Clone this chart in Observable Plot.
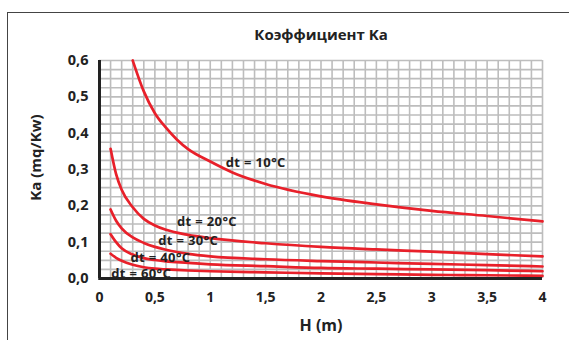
<!DOCTYPE html>
<html><head><meta charset="utf-8">
<script src="https://cdn.jsdelivr.net/npm/d3@7"></script>
<script src="https://cdn.jsdelivr.net/npm/@observablehq/plot@0.6"></script>
<style>
html,body{margin:0;padding:0;background:#fff;}
#wrap{position:relative;width:569px;height:340px;overflow:hidden;background:#fff;}
#frame{position:absolute;left:7px;top:12px;width:600px;height:400px;border-left:1px solid #444;border-top:1px solid #444;}
#chart{position:absolute;left:0;top:0;}
.curve-label text{letter-spacing:0.35px;}
</style></head><body>
<div id="wrap"><div id="frame"></div><div id="chart"></div></div>
<script>
const title = "Коэффициент Ka";
const xLabel = "H (m)";
const yLabel = "Ka (mq/Kw)";
const series = ["dt = 10°C", "dt = 20°C", "dt = 30°C", "dt = 40°C", "dt = 60°C"];
const h10 = [0.3, 0.4, 0.5, 0.6, 0.7, 0.8, 1.0, 1.2, 1.5, 2.0, 2.5, 3.0, 3.5, 4.0];
const ka10 = [0.6, 0.515, 0.455, 0.415, 0.382, 0.356, 0.322, 0.292, 0.26, 0.226, 0.204, 0.186, 0.172, 0.157];
const hLow = [0.1, 0.15, 0.2, 0.3, 0.4, 0.5, 0.6, 0.8, 1.0, 1.5, 2.0, 2.5, 3.0, 3.5, 4.0];
const ka20 = [0.357, 0.287, 0.244, 0.196, 0.164, 0.146, 0.134, 0.12, 0.111, 0.097, 0.087, 0.08, 0.074, 0.067, 0.061];
const ka30 = [0.19, 0.159, 0.138, 0.113, 0.098, 0.087, 0.079, 0.068, 0.061, 0.053, 0.048, 0.044, 0.04, 0.037, 0.033];
const ka40 = [0.122, 0.1, 0.083, 0.066, 0.056, 0.051, 0.047, 0.043, 0.039, 0.034, 0.029, 0.027, 0.025, 0.023, 0.02];
const ka60 = [0.068, 0.057, 0.049, 0.038, 0.031, 0.027, 0.025, 0.022, 0.02, 0.017, 0.014, 0.012, 0.01, 0.009, 0.007];
const labelH = [1.14, 0.70, 0.53, 0.28, 0.106];
const labelKa = [0.317, 0.155, 0.103, 0.058, 0.012];
const xTicks = [0, 0.5, 1, 1.5, 2, 2.5, 3, 3.5, 4];
const yTicks = [0, 0.1, 0.2, 0.3, 0.4, 0.5, 0.6];
const xGridStep = 0.1;
const yGridStep = 0.025;
const yLabelAt = {H: -0.57, Ka: 0.333};

const xGrid = d3.range(0, Math.round(4 / xGridStep) + 1).map(i => +(i * xGridStep).toFixed(3));
const yGrid = d3.range(0, Math.round(0.6 / yGridStep) + 1).map(i => +(i * yGridStep).toFixed(3));

const allKa = [ka10, ka20, ka30, ka40, ka60];
const rows = [];
allKa.forEach((arr, s) => {
  const hs = s === 0 ? h10 : hLow;
  arr.forEach((v, i) => rows.push({series: series[s], H: hs[i], Ka: v}));
});
const labels = series.map((s, i) => ({text: s, H: labelH[i], Ka: labelKa[i]}));
const comma = d => String(d).replace(".", ",");

const chart = Plot.plot({
  width: 569,
  height: 340,
  marginLeft: 99,
  marginRight: 27,
  marginTop: 60,
  marginBottom: 62,
  style: {fontFamily: "'Open Sans', sans-serif", background: "transparent", overflow: "visible"},
  x: {domain: [0, 4]},
  y: {domain: [0, 0.6]},
  marks: [
    Plot.gridX(xGrid, {stroke: "#bdbdbd", strokeOpacity: 1, strokeWidth: 1.6}),
    Plot.gridY(yGrid, {stroke: "#bdbdbd", strokeOpacity: 1, strokeWidth: 1.6}),
    Plot.axisX(xTicks, {tickSize: 0, tickPadding: 14, tickFormat: comma, fontSize: 14, fontWeight: "bold", fill: "#222", label: null}),
    Plot.axisY(yTicks, {tickSize: 0, tickPadding: 11, tickFormat: d => d.toFixed(1).replace(".", ","), fontSize: 14.5, fontWeight: "bold", fill: "#222", label: null}),
    Plot.line(rows, {x: "H", y: "Ka", z: "series", stroke: "#e8202a", strokeWidth: 2.7, curve: "monotone-x"}),
    Plot.ruleX([0], {stroke: "#222", strokeWidth: 3}),
    Plot.ruleY([0], {stroke: "#222", strokeWidth: 3, x1: -0.007, x2: 4}),
    Plot.text(labels, {x: "H", y: "Ka", text: "text", textAnchor: "start", lineAnchor: "middle", fontSize: 13, fontWeight: "bold", fill: "#222", className: "curve-label"}),
    Plot.text([title], {frameAnchor: "top", dy: -25, lineAnchor: "middle", fontSize: 15, fontWeight: "bold", fill: "#222"}),
    Plot.text([xLabel], {frameAnchor: "bottom", dy: 47, lineAnchor: "middle", fontSize: 16, fontWeight: "bold", fill: "#222"}),
    Plot.text([yLabel], {x: [yLabelAt.H], y: [yLabelAt.Ka], text: d => d, rotate: -90, lineAnchor: "middle", textAnchor: "middle", fontSize: 15, fontWeight: "bold", fill: "#222"})
  ]
});
document.getElementById("chart").appendChild(chart);
</script>
</body></html>
